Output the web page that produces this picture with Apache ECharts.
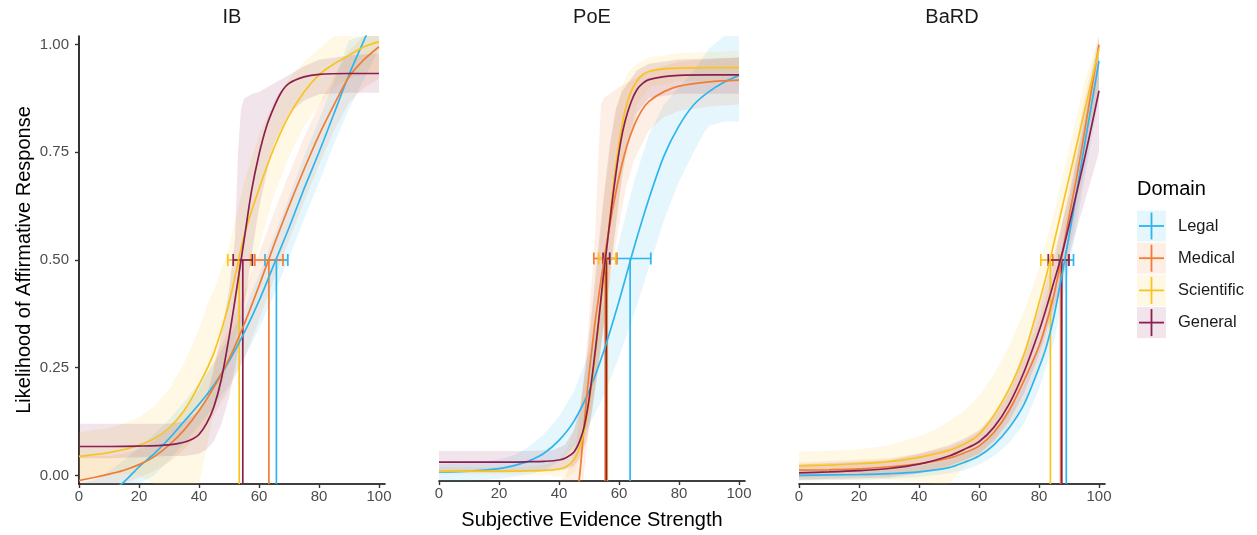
<!DOCTYPE html>
<html>
<head>
<meta charset="utf-8">
<script src="https://cdn.jsdelivr.net/npm/echarts@6/dist/echarts.min.js"></script>
<style>
  html, body { margin: 0; padding: 0; background: #fff; }
  #chart { width: 1257px; height: 535px; }
</style>
</head>
<body>
<div id="chart"></div>
<script>
// Domains, facets and tick labels
const categories = ['Legal', 'Medical', 'Scientific', 'General'];
const panels = ['IB', 'PoE', 'BaRD'];
const palette = ['#2DB5F0', '#F27C34', '#F9C41F', '#8A1F52'];
const bandAlpha = 0.12;
const xTicks = [0, 20, 40, 60, 80, 100];
const yTicks = [0, 0.25, 0.5, 0.75, 1];

// Fitted response curves: [evidence strength, likelihood]
const ibLegal = [[0,-0.09],[5,-0.065],[10,-0.04],[15,-0.015],[20,0.02],[25,0.05],[30,0.085],[35,0.125],[40,0.165],[45,0.21],[50,0.265],[55,0.33],[60,0.405],[65,0.49],[70,0.575],[75,0.665],[80,0.75],[85,0.84],[90,0.93],[95,1.01],[100,1.09]];
const ibMedical = [[0,-0.012],[5,-0.005],[10,0.003],[15,0.012],[20,0.025],[25,0.043],[30,0.07],[35,0.105],[40,0.15],[45,0.205],[50,0.27],[55,0.35],[60,0.44],[65,0.535],[70,0.625],[75,0.71],[80,0.79],[85,0.86],[90,0.925],[95,0.965],[100,0.995]];
const ibScientific = [[0,0.044],[5,0.048],[10,0.053],[15,0.06],[20,0.07],[25,0.085],[30,0.11],[35,0.15],[40,0.21],[45,0.285],[50,0.4],[55,0.555],[60,0.665],[65,0.76],[70,0.835],[75,0.89],[80,0.93],[85,0.955],[90,0.975],[95,0.995],[100,1.007]];
const ibGeneral = [[0,0.067],[10,0.067],[20,0.068],[30,0.071],[35,0.077],[38,0.085],[40,0.095],[42.5,0.12],[45,0.16],[47.5,0.225],[50,0.32],[52.5,0.43],[55,0.545],[57.5,0.66],[60,0.745],[62.5,0.81],[65,0.855],[67.5,0.89],[70,0.91],[75,0.925],[80,0.931],[90,0.933],[100,0.933]];

const poeLegal = [[0,0.001],[10,0.003],[20,0.009],[25,0.016],[30,0.027],[35,0.045],[40,0.075],[45,0.12],[50,0.19],[55,0.285],[60,0.4],[65,0.525],[70,0.64],[75,0.74],[80,0.81],[85,0.86],[90,0.89],[95,0.912],[100,0.928]];
const poeMedical = [[45,-0.14],[46,-0.06],[47,0.0],[48,0.08],[49,0.16],[50,0.23],[51,0.29],[52,0.35],[53,0.4],[54,0.45],[55,0.495],[56,0.54],[57,0.58],[58,0.62],[60,0.69],[62.5,0.76],[65,0.81],[67.5,0.845],[70,0.867],[75,0.89],[80,0.903],[90,0.913],[100,0.917]];
const poeScientific = [[0,0.003],[20,0.003],[30,0.004],[35,0.005],[40,0.008],[42.5,0.014],[45,0.03],[47,0.06],[48.5,0.1],[50,0.16],[51.5,0.24],[53,0.33],[54.5,0.43],[56,0.53],[57.5,0.63],[59,0.72],[60.5,0.79],[62,0.845],[64,0.89],[66,0.915],[68,0.93],[70,0.937],[75,0.943],[80,0.945],[90,0.946],[100,0.946]];
const poeGeneral = [[0,0.024],[20,0.024],[30,0.025],[35,0.026],[40,0.029],[42.5,0.035],[45,0.048],[47,0.075],[48.5,0.11],[50,0.17],[51.5,0.25],[53,0.34],[54.5,0.44],[56,0.53],[57.5,0.62],[59,0.7],[60.5,0.77],[62,0.82],[64,0.865],[66,0.895],[68,0.91],[70,0.918],[75,0.925],[80,0.928],[90,0.929],[100,0.929]];

const bardLegal = [[0,0.0],[10,0.001],[20,0.002],[30,0.004],[40,0.008],[50,0.018],[55,0.03],[60,0.045],[65,0.071],[70,0.11],[75,0.165],[80,0.25],[82.5,0.3],[85,0.37],[87.5,0.46],[90,0.555],[92.5,0.655],[95,0.76],[97.5,0.86],[100,0.962]];
const bardMedical = [[0,0.012],[10,0.013],[20,0.015],[30,0.02],[40,0.027],[50,0.04],[55,0.052],[60,0.068],[65,0.1],[70,0.15],[75,0.22],[80,0.3],[82.5,0.355],[85,0.42],[87.5,0.505],[90,0.6],[92.5,0.69],[95,0.79],[97.5,0.895],[100,1.0]];
const bardScientific = [[0,0.022],[10,0.024],[20,0.027],[30,0.032],[40,0.042],[50,0.058],[55,0.072],[60,0.095],[65,0.14],[70,0.2],[75,0.28],[80,0.4],[82.5,0.465],[85,0.54],[87.5,0.615],[90,0.69],[92.5,0.765],[95,0.84],[97.5,0.915],[100,0.99]];
const bardGeneral = [[0,0.006],[10,0.008],[20,0.011],[30,0.016],[40,0.026],[50,0.045],[55,0.06],[60,0.078],[65,0.112],[70,0.165],[75,0.24],[80,0.335],[82.5,0.39],[85,0.45],[87.5,0.51],[90,0.58],[92.5,0.655],[95,0.73],[97.5,0.81],[100,0.893]];

// Confidence bands: [evidence strength, lower, upper]
const ibLegalBand = [[0,-0.2,-0.03],[5,-0.16,-0.01],[10,-0.11,0.01],[15,-0.07,0.035],[20,-0.03,0.065],[25,0.0,0.095],[30,0.035,0.13],[35,0.075,0.17],[40,0.115,0.215],[45,0.16,0.26],[50,0.21,0.32],[55,0.27,0.385],[60,0.34,0.465],[65,0.42,0.555],[70,0.505,0.645],[75,0.595,0.74],[80,0.68,0.825],[85,0.77,0.915],[90,0.85,1.01],[95,0.92,1.1],[100,0.99,1.2]];
const ibMedicalBand = [[0,-0.07,0.045],[5,-0.05,0.045],[10,-0.035,0.045],[15,-0.02,0.05],[20,-0.005,0.06],[25,0.01,0.08],[30,0.03,0.11],[35,0.06,0.15],[40,0.095,0.2],[45,0.14,0.265],[50,0.2,0.34],[55,0.27,0.425],[60,0.36,0.515],[65,0.455,0.61],[70,0.545,0.7],[75,0.635,0.785],[80,0.72,0.86],[85,0.8,0.925],[90,0.865,0.985],[95,0.9,1.03],[100,0.92,1.07]];
const ibScientificBand = [[0,-0.01,0.1],[5,-0.005,0.105],[10,0.0,0.11],[15,0.005,0.12],[20,0.0,0.135],[25,-0.03,0.16],[30,-0.05,0.2],[35,-0.04,0.26],[40,-0.02,0.34],[43,0.08,0.4],[45,0.15,0.43],[50,0.26,0.53],[55,0.4,0.68],[60,0.53,0.79],[65,0.65,0.87],[70,0.74,0.92],[75,0.81,0.96],[80,0.86,0.99],[85,0.9,1.02],[90,0.92,1.04],[95,0.93,1.06],[100,0.94,1.07]];
const ibGeneralBand = [[0,0.04,0.12],[10,0.04,0.12],[20,0.042,0.12],[30,0.045,0.12],[35,0.045,0.125],[40,0.05,0.15],[42.5,0.06,0.18],[45,0.08,0.25],[47.5,0.12,0.33],[50,0.18,0.43],[52,0.25,0.55],[53,0.29,0.75],[54,0.34,0.85],[55,0.39,0.875],[57.5,0.51,0.885],[60,0.62,0.89],[62.5,0.7,0.9],[65,0.77,0.91],[70,0.84,0.93],[75,0.87,0.95],[80,0.885,0.965],[90,0.888,0.975],[100,0.888,0.98]];

const poeLegalBand = [[0,-0.02,0.02],[10,-0.02,0.022],[20,-0.015,0.03],[25,-0.01,0.04],[30,-0.005,0.06],[35,0.005,0.09],[40,0.025,0.13],[45,0.06,0.19],[50,0.11,0.28],[55,0.18,0.4],[60,0.27,0.54],[65,0.37,0.68],[70,0.48,0.79],[75,0.59,0.86],[80,0.68,0.9],[85,0.75,0.94],[88,0.79,0.97],[90,0.81,0.99],[95,0.82,1.04],[100,0.82,1.08]];
const poeMedicalBand = [[40,-0.45,-0.03],[42,-0.35,-0.01],[44,-0.25,0.02],[46,-0.12,0.08],[48,-0.02,0.2],[50,0.1,0.36],[52,0.2,0.55],[53,0.25,0.72],[54,0.3,0.86],[55,0.35,0.875],[57,0.45,0.885],[60,0.58,0.9],[62.5,0.67,0.91],[65,0.73,0.92],[70,0.8,0.94],[75,0.83,0.95],[80,0.845,0.96],[90,0.855,0.965],[100,0.86,0.97]];
const poeScientificBand = [[0,-0.005,0.012],[20,-0.005,0.012],[30,-0.005,0.014],[35,-0.006,0.018],[40,-0.01,0.03],[43,-0.01,0.06],[45,0.0,0.1],[47,0.03,0.16],[49,0.08,0.25],[51,0.15,0.37],[53,0.24,0.5],[55,0.35,0.64],[57,0.46,0.76],[59,0.58,0.85],[61,0.69,0.9],[63,0.78,0.935],[66,0.86,0.955],[70,0.9,0.97],[80,0.915,0.98],[100,0.915,0.985]];
const poeGeneralBand = [[0,0.0,0.05],[20,0.0,0.05],[30,0.001,0.05],[38,0.003,0.052],[42,0.007,0.065],[45,0.015,0.1],[47,0.035,0.15],[49,0.07,0.25],[51,0.14,0.38],[53,0.24,0.52],[55,0.35,0.65],[57,0.46,0.77],[59,0.58,0.85],[61,0.69,0.89],[63,0.77,0.91],[66,0.84,0.94],[70,0.875,0.955],[80,0.885,0.965],[100,0.885,0.97]];

const bardLegalBand = [[0,-0.012,0.012],[20,-0.01,0.014],[30,-0.008,0.016],[40,-0.004,0.022],[50,0.005,0.035],[55,0.012,0.05],[60,0.025,0.07],[65,0.045,0.1],[70,0.075,0.145],[75,0.12,0.21],[80,0.2,0.3],[85,0.31,0.43],[90,0.48,0.63],[95,0.68,0.84],[100,0.88,1.04]];
const bardMedicalBand = [[0,-0.005,0.03],[30,0.0,0.04],[40,0.005,0.05],[50,0.018,0.065],[55,0.03,0.08],[60,0.045,0.1],[65,0.07,0.135],[70,0.11,0.19],[75,0.17,0.27],[80,0.25,0.36],[85,0.36,0.48],[90,0.52,0.67],[95,0.7,0.87],[100,0.92,1.06]];
const bardScientificBand = [[0,-0.01,0.055],[20,-0.01,0.06],[30,-0.01,0.07],[40,-0.015,0.09],[45,-0.05,0.105],[50,-0.02,0.125],[55,0.02,0.15],[60,0.045,0.185],[65,0.085,0.235],[70,0.14,0.3],[75,0.22,0.38],[80,0.33,0.48],[85,0.47,0.61],[90,0.61,0.76],[95,0.75,0.91],[100,0.9,1.06]];
const bardGeneralBand = [[0,-0.01,0.025],[30,-0.005,0.035],[40,0.005,0.05],[50,0.022,0.07],[55,0.035,0.085],[60,0.05,0.105],[65,0.08,0.14],[70,0.125,0.2],[75,0.19,0.29],[80,0.28,0.39],[85,0.39,0.51],[90,0.51,0.65],[95,0.63,0.82],[100,0.75,1.0]];

// 50% thresholds with intervals: [estimate, lower, upper], in domain order
const ibThreshold = [[65.8,62.0,69.6],[63.3,58.6,68.0],[53.4,49.6,57.2],[54.6,51.4,57.8]];
const poeThreshold = [[63.7,56.9,70.6],[55.4,51.6,59.3],[56.1,53.2,58.9],[55.8,54.7,56.9]];
const bardThreshold = [[89.1,86.7,91.5],[87.2,84.6,89.8],[83.8,80.6,87.0],[87.6,83.1,90.0]];

// Assembled per facet
const curves = [
  [ibLegal, ibMedical, ibScientific, ibGeneral],
  [poeLegal, poeMedical, poeScientific, poeGeneral],
  [bardLegal, bardMedical, bardScientific, bardGeneral]
];
const bands = [
  [ibLegalBand, ibMedicalBand, ibScientificBand, ibGeneralBand],
  [poeLegalBand, poeMedicalBand, poeScientificBand, poeGeneralBand],
  [bardLegalBand, bardMedicalBand, bardScientificBand, bardGeneralBand]
];
const thresholds = [ibThreshold, poeThreshold, bardThreshold];

const Y_MIN = -0.02, Y_MAX = 1.02, X_MAX = 102;
const FONT = '"Liberation Sans", Arial, Helvetica, sans-serif';
const gridLefts = [79, 439, 799];
const GRID_TOP = 36, GRID_H = 448, GRID_W = 306;

function rgba(hex, a) {
  const n = parseInt(hex.slice(1), 16);
  return 'rgba(' + (n >> 16 & 255) + ',' + (n >> 8 & 255) + ',' + (n & 255) + ',' + a + ')';
}
function clampY(v) { return Math.max(Y_MIN, Math.min(Y_MAX, v)); }

const chart = echarts.init(document.getElementById('chart'), null, { renderer: 'canvas' });

const grids = [], xAxes = [], yAxes = [], series = [];
panels.forEach((name, p) => {
  grids.push({ left: gridLefts[p], top: GRID_TOP, width: GRID_W, height: GRID_H, containLabel: false });
  xAxes.push({
    type: 'value', gridIndex: p, min: 0, max: X_MAX,
    axisLine: { show: true, onZero: false, lineStyle: { color: '#000', width: 1.6 } },
    axisTick: { show: true, length: 4, customValues: xTicks, lineStyle: { color: '#333', width: 1.4 } },
    axisLabel: { customValues: xTicks, color: '#4D4D4D', fontSize: 15, fontFamily: FONT, margin: 5 },
    splitLine: { show: false },
    name: p === 1 ? 'Subjective Evidence Strength' : '',
    nameLocation: 'middle', nameGap: 29,
    nameTextStyle: { color: '#000', fontSize: 20, fontFamily: FONT }
  });
  yAxes.push({
    type: 'value', gridIndex: p, min: Y_MIN, max: Y_MAX,
    show: p === 0,
    axisLine: { show: true, onZero: false, lineStyle: { color: '#000', width: 1.6 } },
    axisTick: { show: true, length: 4, customValues: yTicks, lineStyle: { color: '#333', width: 1.4 } },
    axisLabel: { customValues: yTicks, color: '#4D4D4D', fontSize: 15, fontFamily: FONT, margin: 10,
      formatter: v => v.toFixed(2) },
    splitLine: { show: false },
    name: p === 0 ? 'Likelihood of Affirmative Response' : '',
    nameLocation: 'middle', nameGap: 45, nameRotate: 90,
    nameTextStyle: { color: '#000', fontSize: 20, fontFamily: FONT }
  });

  // ribbons
  categories.forEach((cat, d) => {
    const band = bands[p][d];
    const fill = rgba(palette[d], bandAlpha);
    series.push({
      type: 'custom', name: cat, xAxisIndex: p, yAxisIndex: p, clip: true,
      data: band, encode: { x: 0, y: [1, 2] }, silent: true,
      renderItem: (params, api) => {
        if (params.dataIndex !== 0) return null;
        const upper = band.map(b => api.coord([b[0], clampY(b[2])]));
        const lower = band.slice().reverse().map(b => api.coord([b[0], clampY(b[1])]));
        return { type: 'polygon', shape: { points: upper.concat(lower) }, style: { fill: fill } };
      }
    });
  });
  // fitted curves
  categories.forEach((cat, d) => {
    series.push({
      type: 'line', name: cat, xAxisIndex: p, yAxisIndex: p, data: curves[p][d],
      showSymbol: false, smooth: 0.3, clip: true, silent: true,
      lineStyle: { color: palette[d], width: 1.7 }
    });
  });
  // threshold lines with horizontal error bars at 0.5
  series.push({
    type: 'custom', name: name + ' thresholds', xAxisIndex: p, yAxisIndex: p, clip: true, silent: true,
    data: thresholds[p], encode: { x: [0, 1, 2] },
    renderItem: (params, api) => {
      const mid = api.value(0), lo = api.value(1), hi = api.value(2);
      const color = palette[params.dataIndex];
      const base = api.coord([mid, Y_MIN]);
      const top = api.coord([mid, 0.5]);
      const l = api.coord([lo, 0.5]);
      const r = api.coord([hi, 0.5]);
      const st = { stroke: color, lineWidth: 1.7 };
      const cap = 6;
      return {
        type: 'group', children: [
          { type: 'line', shape: { x1: base[0], y1: base[1], x2: top[0], y2: top[1] }, style: st },
          { type: 'line', shape: { x1: l[0], y1: l[1], x2: r[0], y2: r[1] }, style: st },
          { type: 'line', shape: { x1: l[0], y1: l[1] - cap, x2: l[0], y2: l[1] + cap }, style: st },
          { type: 'line', shape: { x1: r[0], y1: r[1] - cap, x2: r[0], y2: r[1] + cap }, style: st }
        ]
      };
    }
  });
});

// facet strip titles and legend
const graphics = panels.map((name, p) => ({
  type: 'text', x: gridLefts[p] + GRID_W / 2, y: 17,
  style: { text: name, fill: '#1A1A1A', font: '20px ' + FONT, textAlign: 'center', textVerticalAlign: 'middle' }
}));
graphics.push({
  type: 'text', x: 1137, y: 189,
  style: { text: 'Domain', fill: '#000', font: '20px ' + FONT, textAlign: 'left', textVerticalAlign: 'middle' }
});
categories.forEach((cat, d) => {
  const cy = 226 + d * 32.2;
  const kx = 1137, kw = 29, kh = 31;
  graphics.push({ type: 'rect', shape: { x: kx, y: cy - kh / 2, width: kw, height: kh }, style: { fill: rgba(palette[d], bandAlpha) } });
  graphics.push({ type: 'line', shape: { x1: kx + kw / 2, y1: cy - 13.5, x2: kx + kw / 2, y2: cy + 13.5 }, style: { stroke: palette[d], lineWidth: 1.8 } });
  graphics.push({ type: 'line', shape: { x1: kx + 2, y1: cy, x2: kx + kw - 2, y2: cy }, style: { stroke: palette[d], lineWidth: 1.8 } });
  graphics.push({ type: 'text', x: 1178, y: cy,
    style: { text: cat, fill: '#1A1A1A', font: '16.5px ' + FONT, textAlign: 'left', textVerticalAlign: 'middle' } });
});

chart.setOption({
  animation: false,
  backgroundColor: '#fff',
  grid: grids,
  xAxis: xAxes,
  yAxis: yAxes,
  series: series,
  graphic: graphics
});
</script>
</body>
</html>
